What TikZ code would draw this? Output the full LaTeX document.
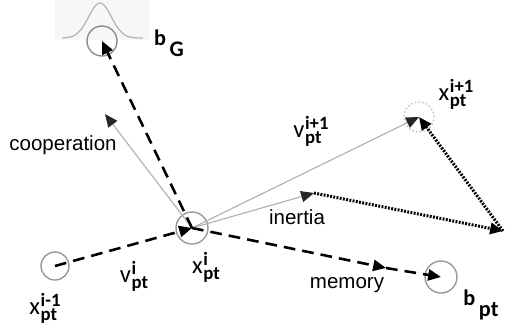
\documentclass[tikz,border=0pt]{standalone}
\usepackage{fontspec}
\setmainfont{Liberation Sans}
\newfontfamily\calfont{Carlito}
\usetikzlibrary{positioning, arrows.meta}

\newcommand{\scr}{\fontsize{16}{16}\selectfont\bfseries}
\newcommand{\vlab}[3]{{\calfont\fontsize{21}{21}\selectfont #1\hspace{0.5pt}{\scr\ooalign{\raisebox{7pt}{#2}\hfil\cr\raisebox{-5pt}{#3}\hfil\cr}}}}
\newcommand{\blab}[2]{{\calfont\fontsize{19}{19}\selectfont\bfseries #1\hspace{3pt}\raisebox{-9pt}{#2}}}

\tikzset{
  ptcirc/.style={circle, draw=gray!80, line width=1.2pt, inner sep=0pt, minimum size=#1},
  move/.style={line width=2.2pt, dash pattern=on 10pt off 6pt, -{Triangle[length=11pt,width=9.5pt]}},
  pull/.style={gray!60, line width=1pt, -{Triangle[length=11pt,width=9.5pt,color=black!85]}},
  dotsum/.style={line width=2.6pt, dash pattern=on 1.6pt off 1.2pt, -{Triangle[length=11pt,width=9.5pt]}},
  word/.style={font=\fontsize{17.5}{17.5}\selectfont}
}

\begin{document}
\begin{tikzpicture}[x=0.03cm, y=-0.03cm]
    \useasboundingbox (0,0) rectangle (509,329);

    % global best with its distribution
    \fill[black!3] (55,0) rectangle (150,40);
    \draw[gray!60, line width=1pt] plot[domain=62:143, samples=60] (\x, {38-35*exp(-1*(((\x-100)/16)^2))});

    % Particle positions
    \node[ptcirc=0.84cm] (xprev) at (55,266) {};
    \node[ptcirc=0.96cm] (xcur) at (192,228) {};
    \node[ptcirc=0.9cm, draw=gray!50, dotted] (xnext) at (419,117) {};
    \node[ptcirc=0.96cm] (bpers) at (441,277) {};
    \node[ptcirc=0.9cm, draw=gray!90] (bglob) at (102,41) {};

    \coordinate (coop) at (105,114);
    \coordinate (inr) at (314,193);
    \coordinate (mem) at (386,268);
    \coordinate (sum) at (503,231);

    % Labels
    \node (lxprev) at (45,308) {\vlab{x}{i-1}{pt}};
    \node (lxcur) at (206,267) {\vlab{x}{i}{pt}};
    \node (lvcur) at (134,276) {\vlab{v}{i}{pt}};
    \node (lvnext) at (311,131) {\vlab{v}{i+1}{pt}};
    \node (lxnext) at (456,94) {\vlab{x}{i+1}{pt}};
    \node (lbglob) at (169,43) {\blab{b}{G}};
    \node (lbpers) at (481,305) {\blab{b}{pt}};
    \node[word] (lcoop) at (63,145) {cooperation};
    \node[word] (linr) at (297,217) {inertia};
    \node[word] (lmem) at (347,285) {memory};

    % Velocity components
    \draw[pull] (xcur.center) -- (coop);
    \draw[pull] (xcur.center) -- (inr);
    \draw[pull] (xcur.center) -- (xnext.center);

    % Vector sum
    \draw[dotsum] (inr) -- (sum);
    \draw[dotsum] (sum) -- (xnext.center);

    % Moves
    \draw[move] (xprev.center) -- (xcur.center);
    \draw[move] (xcur.center) -- (bglob.center);
    \draw[move] (xcur.center) -- (mem);
    \draw[move] (mem) -- (bpers.center);
\end{tikzpicture}
\end{document}
